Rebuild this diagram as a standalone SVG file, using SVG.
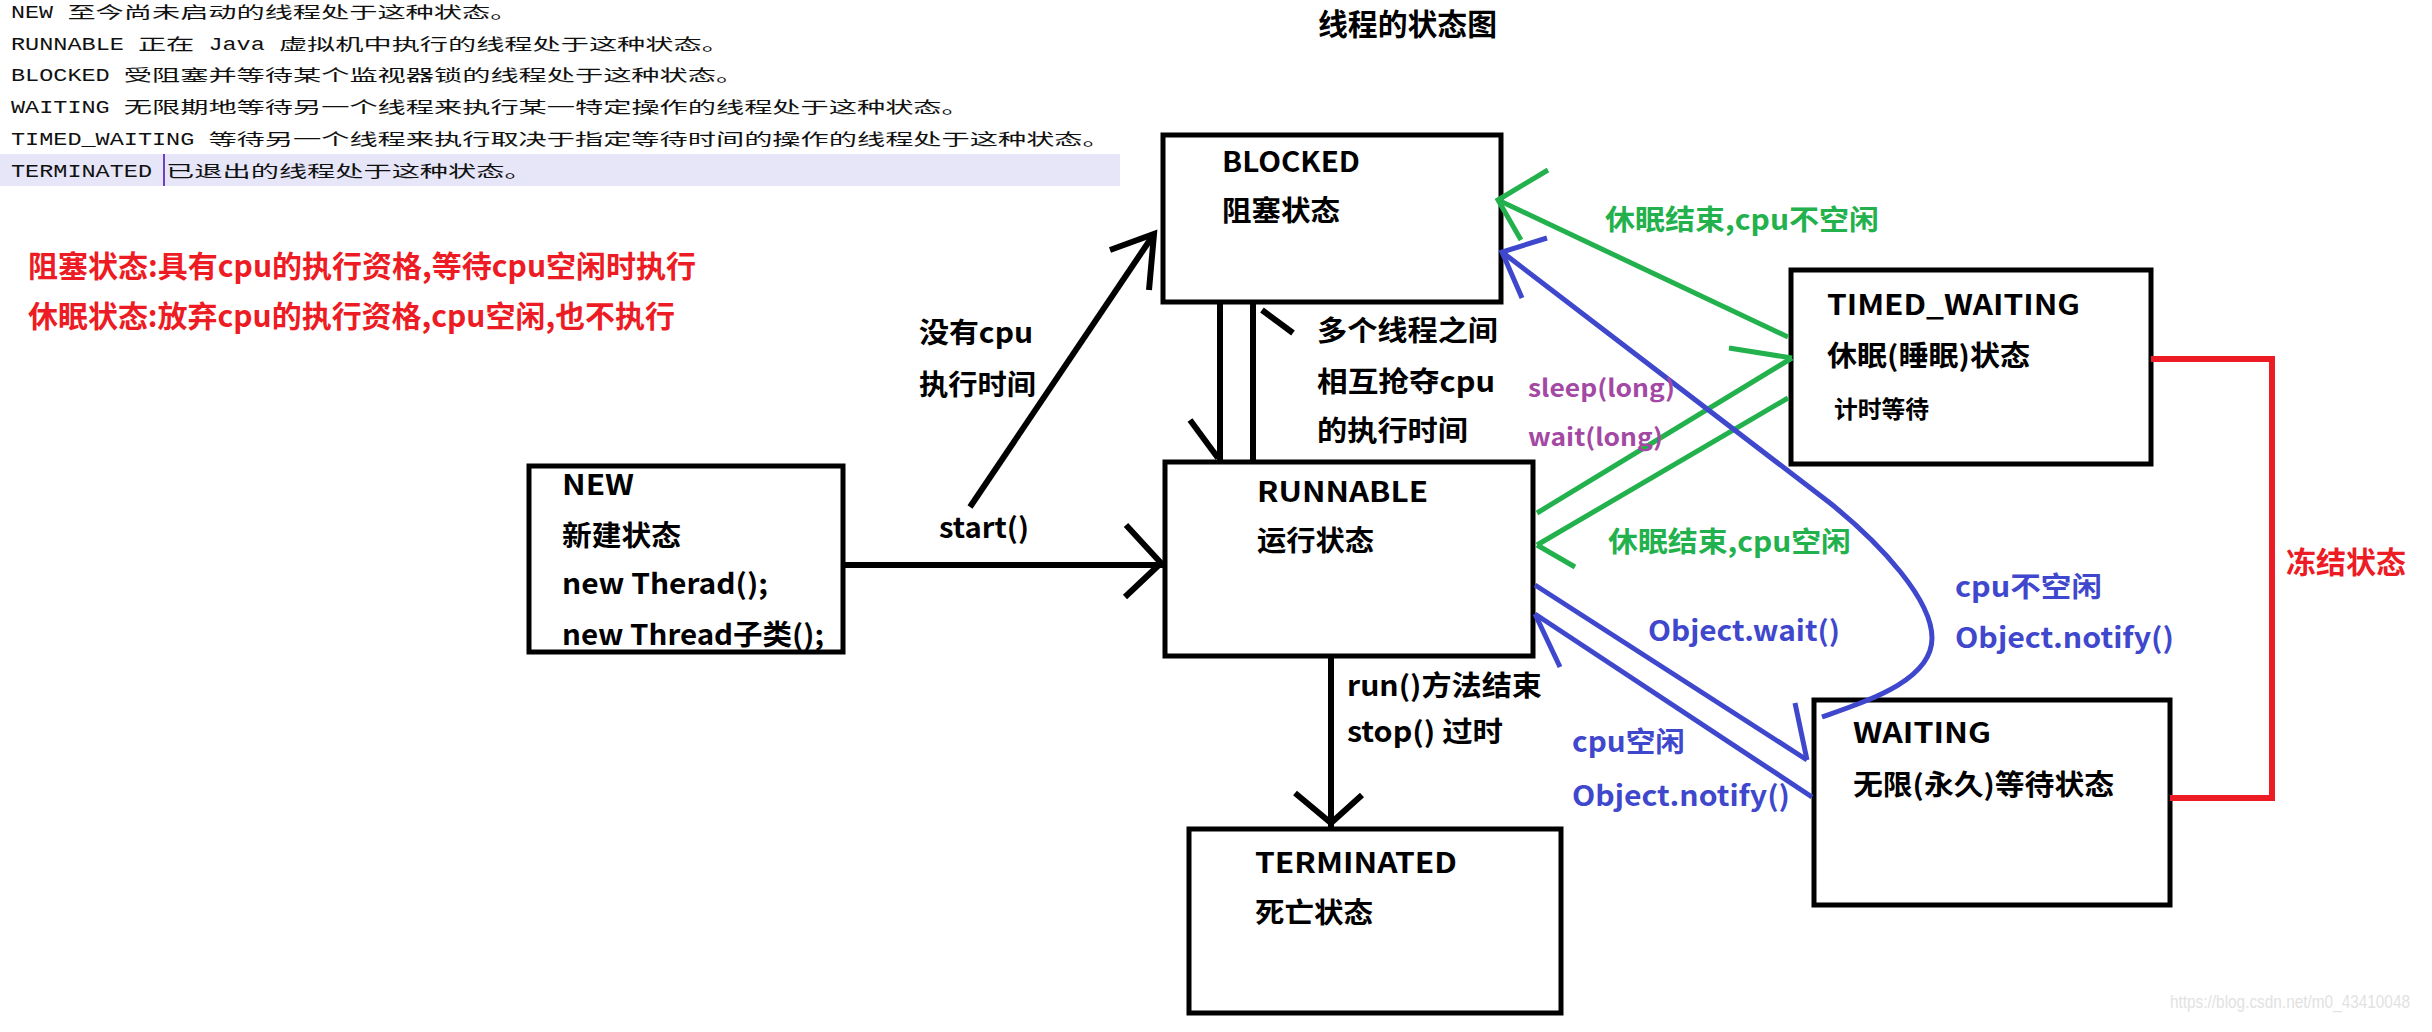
<svg xmlns="http://www.w3.org/2000/svg" width="2432" height="1032" viewBox="0 0 2432 1032">
<style>
.box{fill:#fff;stroke:#000;stroke-width:5}
.t{font-family:"Noto Sans CJK SC","Liberation Sans",sans-serif;font-weight:bold;font-size:28px;fill:#000}
.s24{font-size:24px}
.s30{font-size:30px}
.mono{font-family:"Liberation Mono","Noto Sans CJK SC",monospace;font-size:19px;fill:#111}
.cjk{font-family:"Noto Sans CJK SC",sans-serif;font-size:16px;fill:#111}
.k{fill:none;stroke:#000;stroke-width:6}
.g{fill:none;stroke:#22b14c;stroke-width:5}
.b{fill:none;stroke:#3f48cc;stroke-width:5}
.r{fill:none;stroke:#ed1c24;stroke-width:6}
.tg{fill:#22b14c}.tb{fill:#3f48cc}.tp{fill:#a349a4}.tr{fill:#ed1c24}
</style>
<rect width="2432" height="1032" fill="#fff"/>

<g id="javadoc">
<rect x="0" y="154" width="1120" height="32" fill="#e6e6f8"/>
<line x1="164" y1="154" x2="164" y2="186" stroke="#7040c0" stroke-width="2"/>
<text class="mono" x="11" y="18" textLength="42" lengthAdjust="spacingAndGlyphs">NEW</text>
<text class="cjk" x="67.4" y="18" textLength="451" lengthAdjust="spacingAndGlyphs">至今尚未启动的线程处于这种状态。</text>
<text class="mono" x="11" y="49.7" textLength="113" lengthAdjust="spacingAndGlyphs">RUNNABLE</text>
<text class="cjk" x="137.9" y="49.7" textLength="56.4" lengthAdjust="spacingAndGlyphs">正在</text>
<text class="mono" x="208.4" y="49.7" textLength="56.4" lengthAdjust="spacingAndGlyphs">Java</text>
<text class="cjk" x="278.9" y="49.7" textLength="451" lengthAdjust="spacingAndGlyphs">虚拟机中执行的线程处于这种状态。</text>
<text class="mono" x="11" y="81.4" textLength="98.7" lengthAdjust="spacingAndGlyphs">BLOCKED</text>
<text class="cjk" x="123.8" y="81.4" textLength="620.4" lengthAdjust="spacingAndGlyphs">受阻塞并等待某个监视器锁的线程处于这种状态。</text>
<text class="mono" x="11" y="113.1" textLength="98.7" lengthAdjust="spacingAndGlyphs">WAITING</text>
<text class="cjk" x="123.8" y="113.1" textLength="846" lengthAdjust="spacingAndGlyphs">无限期地等待另一个线程来执行某一特定操作的线程处于这种状态。</text>
<text class="mono" x="11" y="144.8" textLength="183.3" lengthAdjust="spacingAndGlyphs">TIMED_WAITING</text>
<text class="cjk" x="208.4" y="144.8" textLength="902.4" lengthAdjust="spacingAndGlyphs">等待另一个线程来执行取决于指定等待时间的操作的线程处于这种状态。</text>
<text class="mono" x="11" y="176.5" textLength="141" lengthAdjust="spacingAndGlyphs">TERMINATED</text>
<text class="cjk" x="166.1" y="176.5" textLength="366.6" lengthAdjust="spacingAndGlyphs">已退出的线程处于这种状态。</text>
</g>

<g id="notes">
<text class="t s30 tr" x="28" y="277" textLength="668" lengthAdjust="spacingAndGlyphs">阻塞状态:具有cpu的执行资格,等待cpu空闲时执行</text>
<text class="t s30 tr" x="28" y="327" textLength="647" lengthAdjust="spacingAndGlyphs">休眠状态:放弃cpu的执行资格,cpu空闲,也不执行</text>
<text class="t s30" x="1318" y="35" textLength="179" lengthAdjust="spacingAndGlyphs">线程的状态图</text>
</g>

<g id="node-blocked">
<rect class="box" x="1163" y="135" width="338" height="167"/>
<text class="t" x="1222" y="172" textLength="138" lengthAdjust="spacingAndGlyphs">BLOCKED</text>
<text class="t" x="1222" y="221" textLength="118" lengthAdjust="spacingAndGlyphs">阻塞状态</text>
</g>
<g id="node-timed-waiting">
<rect class="box" x="1791" y="270" width="360" height="194"/>
<text class="t" x="1827" y="315" textLength="253" lengthAdjust="spacingAndGlyphs">TIMED_WAITING</text>
<text class="t" x="1827" y="366" textLength="203" lengthAdjust="spacingAndGlyphs">休眠(睡眠)状态</text>
<text class="t s24" x="1834" y="418" textLength="95" lengthAdjust="spacingAndGlyphs">计时等待</text>
</g>
<g id="node-new">
<rect class="box" x="529" y="466" width="314" height="186"/>
<text class="t" x="562" y="495" textLength="72" lengthAdjust="spacingAndGlyphs">NEW</text>
<text class="t" x="562" y="546" textLength="119" lengthAdjust="spacingAndGlyphs">新建状态</text>
<text class="t" x="562" y="594" textLength="206" lengthAdjust="spacingAndGlyphs">new Therad();</text>
<text class="t" x="562" y="645" textLength="262" lengthAdjust="spacingAndGlyphs">new Thread子类();</text>
</g>
<g id="node-runnable">
<rect class="box" x="1165" y="462" width="368" height="194"/>
<text class="t" x="1257" y="502" textLength="171" lengthAdjust="spacingAndGlyphs">RUNNABLE</text>
<text class="t" x="1257" y="551" textLength="117" lengthAdjust="spacingAndGlyphs">运行状态</text>
</g>
<g id="node-waiting">
<rect class="box" x="1814" y="700" width="356" height="205"/>
<text class="t" x="1853" y="743" textLength="138" lengthAdjust="spacingAndGlyphs">WAITING</text>
<text class="t" x="1853" y="795" textLength="261" lengthAdjust="spacingAndGlyphs">无限(永久)等待状态</text>
</g>
<g id="node-terminated">
<rect class="box" x="1189" y="829" width="372" height="184"/>
<text class="t" x="1255" y="873" textLength="202" lengthAdjust="spacingAndGlyphs">TERMINATED</text>
<text class="t" x="1255" y="923" textLength="118" lengthAdjust="spacingAndGlyphs">死亡状态</text>
</g>

<g id="connectors">
<line class="k" x1="843" y1="565" x2="1163" y2="565"/>
<polyline class="k" points="1126,525 1161,563 1125,597"/>
<line class="k" x1="970" y1="507" x2="1154" y2="234" stroke-width="5"/>
<polyline class="k" points="1110,250 1154,234 1149,290" stroke-width="5"/>
<line class="k" x1="1220" y1="302" x2="1220" y2="462" stroke-width="5"/>
<line class="k" x1="1190" y1="420" x2="1218" y2="458" stroke-width="5"/>
<line class="k" x1="1253" y1="302" x2="1253" y2="462" stroke-width="5"/>
<line class="k" x1="1262" y1="310" x2="1293" y2="333" stroke-width="5"/>
<line class="k" x1="1331" y1="656" x2="1331" y2="827" stroke-width="5"/>
<polyline class="k" points="1295,793 1331,823 1362,795" stroke-width="5"/>
<line class="g" x1="1788" y1="337" x2="1498" y2="200"/>
<polyline class="g" points="1548,170 1498,200 1521,240"/>
<line class="g" x1="1537" y1="513" x2="1792" y2="358"/>
<line class="g" x1="1729" y1="348" x2="1792" y2="358"/>
<line class="g" x1="1788" y1="398" x2="1537" y2="545"/>
<line class="g" x1="1575" y1="567" x2="1537" y2="545"/>
<path class="b" d="M1822,717 C1870,700 1932,680 1932,638 C1932,600 1882,545 1830,503 L1502,252"/>
<polyline class="b" points="1547,238 1502,252 1522,298"/>
<line class="b" x1="1535" y1="585" x2="1807" y2="760"/>
<line class="b" x1="1795" y1="703" x2="1807" y2="760"/>
<line class="b" x1="1812" y1="797" x2="1535" y2="614"/>
<line class="b" x1="1560" y1="667" x2="1535" y2="614"/>
<polyline class="r" points="2151,359 2272,359 2272,798 2170,798"/>

<text class="t" x="939" y="538" textLength="90" lengthAdjust="spacingAndGlyphs">start()</text>
<text class="t" x="919" y="343" textLength="114" lengthAdjust="spacingAndGlyphs">没有cpu</text>
<text class="t" x="919" y="395" textLength="117" lengthAdjust="spacingAndGlyphs">执行时间</text>
<text class="t" x="1317" y="341" textLength="181" lengthAdjust="spacingAndGlyphs">多个线程之间</text>
<text class="t" x="1317" y="392" textLength="178" lengthAdjust="spacingAndGlyphs">相互抢夺cpu</text>
<text class="t" x="1317" y="441" textLength="151" lengthAdjust="spacingAndGlyphs">的执行时间</text>
<text class="t" x="1347" y="696" textLength="195" lengthAdjust="spacingAndGlyphs">run()方法结束</text>
<text class="t" x="1347" y="742" textLength="156" lengthAdjust="spacingAndGlyphs">stop() 过时</text>
<text class="t tg" x="1605" y="230" textLength="274" lengthAdjust="spacingAndGlyphs">休眠结束,cpu不空闲</text>
<text class="t tg" x="1608" y="552" textLength="243" lengthAdjust="spacingAndGlyphs">休眠结束,cpu空闲</text>
<text class="t s24 tp" x="1528" y="397" textLength="147" lengthAdjust="spacingAndGlyphs">sleep(long)</text>
<text class="t s24 tp" x="1528" y="446" textLength="135" lengthAdjust="spacingAndGlyphs">wait(long)</text>
<text class="t tb" x="1648" y="641" textLength="192" lengthAdjust="spacingAndGlyphs">Object.wait()</text>
<text class="t tb" x="1955" y="597" textLength="147" lengthAdjust="spacingAndGlyphs">cpu不空闲</text>
<text class="t tb" x="1955" y="648" textLength="219" lengthAdjust="spacingAndGlyphs">Object.notify()</text>
<text class="t tb" x="1572" y="752" textLength="113" lengthAdjust="spacingAndGlyphs">cpu空闲</text>
<text class="t tb" x="1572" y="806" textLength="218" lengthAdjust="spacingAndGlyphs">Object.notify()</text>
<text class="t s30 tr" x="2286" y="573" textLength="120" lengthAdjust="spacingAndGlyphs">冻结状态</text>
</g>

<text x="2170" y="1008" font-family="Liberation Sans, sans-serif" font-size="18" fill="#e2e2e2" textLength="240" lengthAdjust="spacingAndGlyphs">https://blog.csdn.net/m0_43410048</text>
</svg>
